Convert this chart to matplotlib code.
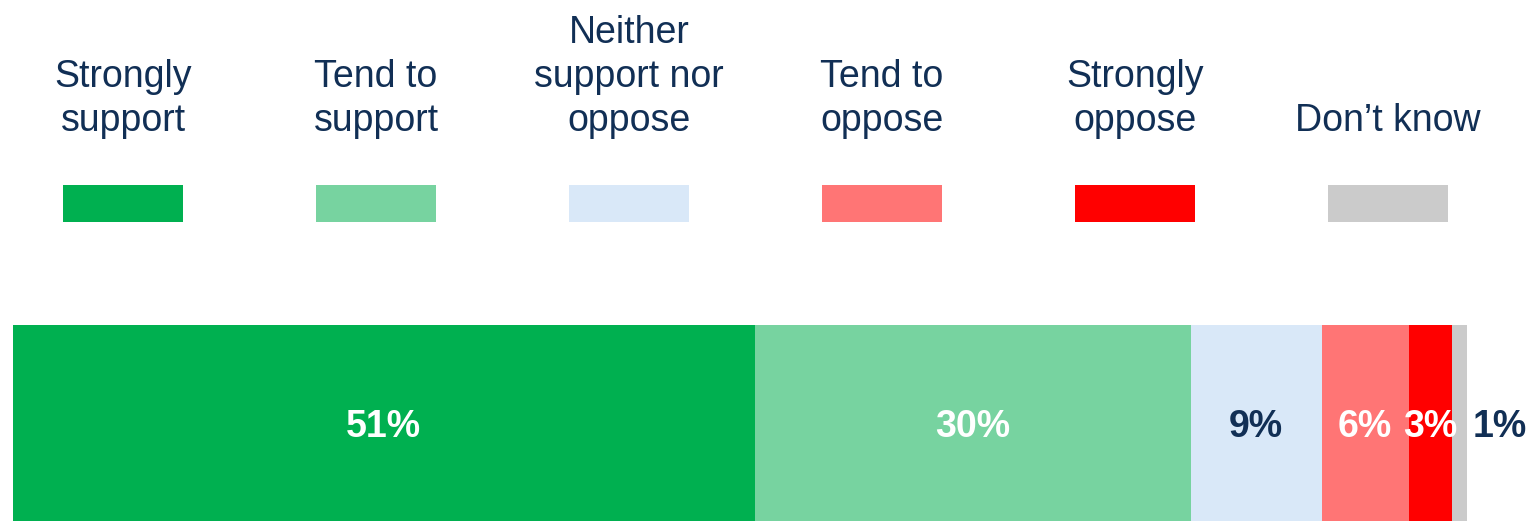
import matplotlib.pyplot as plt
from matplotlib.patches import Rectangle

plt.rcParams['font.family'] = ['Liberation Sans', 'DejaVu Sans']

# survey answers, % of respondents
categories = ['Strongly\nsupport', 'Tend to\nsupport', 'Neither\nsupport nor\noppose',
              'Tend to\noppose', 'Strongly\noppose', 'Don\u2019t know']
values = [51, 30, 9, 6, 3, 1]
value_labels = ['51%', '30%', '9%', '6%', '3%', '1%']

colors = ['#00B050', '#77D3A0', '#D9E8F8', '#FF7575', '#FF0000', '#CBCBCB']
label_colors = ['white', 'white', '#112F55', 'white', 'white', '#112F55']
navy = '#112F55'

W, H = 1527, 521
fig = plt.figure(figsize=(W / 100, H / 100), dpi=100)

# stacked bar along the bottom
ax = fig.add_axes([13 / W, 0, 1454 / W, 196 / H])
left = 0
for i, v in enumerate(values):
    ax.barh(0, v, left=left, height=1, color=colors[i], edgecolor='none')
    if i == len(values) - 1:
        # last slice is too thin, put its label just right of the bar
        ax.annotate(value_labels[i], (left + v, 0), xytext=(4, -3), textcoords='offset points',
                    ha='left', va='center', fontsize=27, fontweight='bold',
                    color=label_colors[i], annotation_clip=False)
    else:
        ax.annotate(value_labels[i], (left + v / 2, 0), xytext=(0, -3), textcoords='offset points',
                    ha='center', va='center', fontsize=27, fontweight='bold',
                    color=label_colors[i], annotation_clip=False)
    left += v
ax.set_xlim(0, 100)
ax.set_ylim(-0.5, 0.5)
ax.axis('off')

# legend row: text on top, colour swatch underneath
lax = fig.add_axes([0, 0, 1, 1])
lax.set_xlim(-123 / 253, (W - 123) / 253)
lax.set_ylim(H, 0)
lax.axis('off')
for i, cat in enumerate(categories):
    lax.add_patch(Rectangle((i - 0.239, 185), 0.478, 37, color=colors[i], lw=0))
    lax.text(i, 139, cat, ha='center', va='bottom', fontsize=27, color=navy,
             linespacing=1.28)

fig.savefig('out.png', dpi=100)
